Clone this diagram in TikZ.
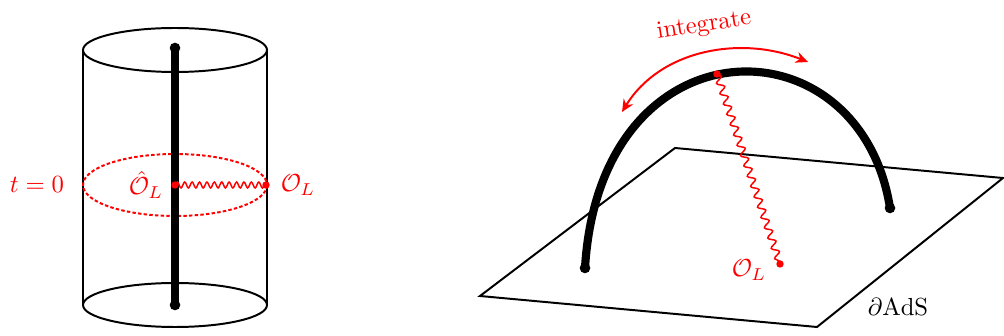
\documentclass[tikz,border=0pt]{standalone}
\usepackage{tikz}
\usetikzlibrary{calc, decorations.pathmorphing, positioning, arrows.meta}
\definecolor{color_line}{HTML}{000000}
\definecolor{color_op}{HTML}{FF0000}
\tikzset{
  bulk_line/.style={draw=color_line, line width=0.8pt},
  geo_line/.style={draw=color_line, line width=3.3pt, line cap=round},
  geo_end/.style={circle, fill=color_line, inner sep=0pt, minimum size=4.3pt},
  slice_line/.style={draw=color_op, line width=0.8pt, dash pattern=on 1.4pt off 0.9pt},
  op_dot/.style={circle, fill=color_op, inner sep=0pt, minimum size=3pt},
  op_label/.style={text=color_op},
  op_snake/.style={draw=color_op, line width=0.6pt, decorate, decoration={snake, amplitude=1.2pt, segment length=3pt}},
  op_snake_long/.style={draw=color_op, line width=0.6pt, decorate, decoration={snake, amplitude=1.4pt, segment length=4.4pt}},
  sweep_arrow/.style={{Stealth[length=5pt, width=4.5pt]}-{Stealth[length=5pt, width=4.5pt]}, draw=color_op, line width=0.8pt},
}
\begin{document}
\begin{tikzpicture}[x=0.01423cm, y=-0.01423cm]
    \useasboundingbox (0,0) rectangle (1004,336);
    % Cylinder
    \draw[bulk_line] (175,50) ellipse [x radius=92, y radius=22];
    \draw[bulk_line] (175,305) ellipse [x radius=92, y radius=22];
    \draw[bulk_line] (83,50) -- (83,305);
    \draw[bulk_line] (267,50) -- (267,305);
    % Time slice
    \draw[slice_line] (175,185) ellipse [x radius=92, y radius=31];
    % Boundary trajectory
    \node[geo_end] (top) at (175,48) {};
    \node[geo_end] (bot) at (175,305) {};
    \draw[geo_line] (top.center) -- (bot.center);
    \node[op_dot] (hatop) at (175,185) {};
    \node[op_dot] (bdyop) at (266,185) {};
    \draw[op_snake] (hatop.center) -- (bdyop.center);
    \node[op_label] (tzero) at (37,185) {$t=0$};
    \node[op_label] (hatlab) at (146,185) {$\hat{\mathcal{O}}_L$};
    \node[op_label] (bdylab) at (298,185) {$\mathcal{O}_L$};

    % Boundary plane
    \draw[bulk_line] (480,296) -- (675,148) -- (1003,178) -- (817,327) -- cycle;
    \node (ads) at (898,307) {$\partial\mathrm{AdS}$};
    % Geodesic
    \node[geo_end] (gl) at (585,268) {};
    \node[geo_end] (gr) at (890,208) {};
    \draw[geo_line] (gl.center) .. controls (600,17) and (860,17) .. (gr.center);
    \node[op_dot] (geoop) at (717,74) {};
    \node[op_dot] (planeop) at (780,264) {};
    \draw[op_snake_long] (geoop.center) -- (planeop.center);
    \node[op_label] (planelab) at (749,270) {$\mathcal{O}_L$};
    % Integrate
    \coordinate (il) at (622,112);
    \coordinate (ir) at (808,62);
    \draw[sweep_arrow] (il) .. controls (660,50) and (740,35) .. (ir);
    \node[op_label, rotate=9] (intlab) at (704,26) {integrate};
\end{tikzpicture}
\end{document}
